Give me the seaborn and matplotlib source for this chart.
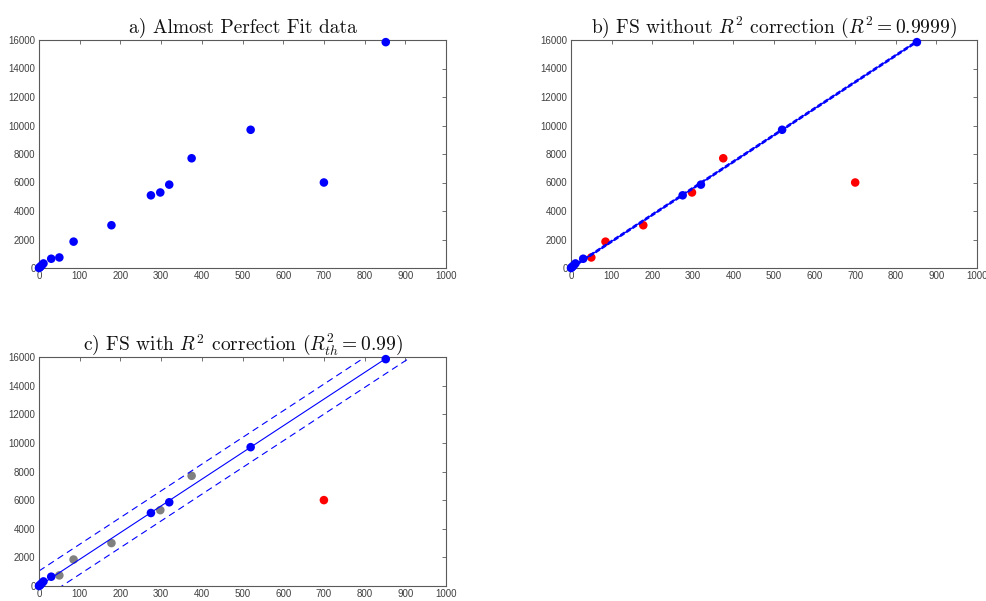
import numpy as np
import pandas as pd
import matplotlib
matplotlib.use("Agg")
import matplotlib.pyplot as plt
import seaborn as sns

# ---------------- data ----------------
x_vals = [0, 2, 4, 7, 11, 30, 50, 85, 178, 275, 298, 320, 375, 520, 700, 852]
y_vals = [0, 50, 110, 190, 320, 650, 740, 1850, 3000, 5100, 5300, 5850, 7700, 9700, 6000, 15850]
# status in panel b (FS without correction): 1 = inlier, 0 = outlier
status_b = [1, 1, 1, 1, 1, 1, 0, 0, 0, 1, 0, 1, 0, 1, 0, 1]
# status in panel c (FS with correction): 1 = inlier, 2 = accepted (grey), 0 = outlier
status_c = [1, 1, 1, 1, 1, 1, 2, 2, 2, 1, 2, 1, 2, 1, 0, 1]

fit_slope = 18.65
fit_intercept = 0.0
band_b = 60.0
band_c = 1050.0

titles = [
    "a) Almost Perfect Fit data",
    r"b) FS without $R^2$ correction ($R^2 = 0.9999$)",
    r"c) FS with $R^2$ correction ($R^2_{th} = 0.99$)",
]
x_ticks = list(range(0, 1001, 100))
y_ticks = list(range(0, 16001, 2000))

df = pd.DataFrame({"x": x_vals, "y": y_vals, "sb": status_b, "sc": status_c})

# ---------------- style ----------------
sns.set_style("white")
plt.rcParams["mathtext.fontset"] = "cm"
plt.rcParams["font.family"] = ["Liberation Sans", "DejaVu Sans"]

W, H = 987, 601
fig = plt.figure(figsize=(W / 100, H / 100), dpi=100)


def make_ax(left, top, right, bottom):
    return fig.add_axes([left / W, 1 - bottom / H, (right - left) / W, (bottom - top) / H])


ax_a = make_ax(39, 40, 446, 268)
ax_b = make_ax(571, 40, 977, 268)
ax_c = make_ax(39, 357, 446, 586)

BLUE = (0, 0, 1)
RED = (1, 0, 0)
GREY = (0.5, 0.5, 0.5)
MS = 38
AXC = "#5a5a5a"


def style_ax(ax, title):
    ax.set_xlim(0, 1000)
    ax.set_ylim(0, 16000)
    ax.set_xticks(x_ticks)
    ax.set_yticks(y_ticks)
    ax.tick_params(direction="in", length=3, width=0.6, colors=AXC,
                   labelsize=7, top=True, right=True, pad=2.5,
                   labelcolor="#404040")
    for s in ax.spines.values():
        s.set_color(AXC)
        s.set_linewidth(0.8)
        s.set_visible(True)
    ax.set_xlabel("")
    ax.set_ylabel("")
    ax.set_title(title, fontsize=14, fontfamily="cmr10", pad=5, color="#111111")
    if ax.get_legend() is not None:
        ax.get_legend().remove()


def scatter(ax, d, color, z):
    sns.scatterplot(data=d, x="x", y="y", ax=ax, color=color, s=MS,
                    edgecolor="none", linewidth=0, zorder=z, legend=False,
                    clip_on=False)


# panel a
scatter(ax_a, df, BLUE, 3)
style_ax(ax_a, titles[0])

# panel b
scatter(ax_b, df[df.sb == 0], RED, 2)
xb = np.array([0.0, df.x[df.sb == 1].max()])
for off, ls, lw in [(0.0, "-", 1.0), (band_b, "--", 1.0), (-band_b, "--", 1.0)]:
    sns.lineplot(x=xb, y=fit_intercept + fit_slope * xb + off, ax=ax_b,
                 color=BLUE, linewidth=lw, linestyle=ls, zorder=2.5, sort=False)
scatter(ax_b, df[df.sb == 1], BLUE, 3)
style_ax(ax_b, titles[1])

# panel c
scatter(ax_c, df[df.sc == 2], GREY, 2)
scatter(ax_c, df[df.sc == 0], RED, 2)
xc = np.array([0.0, 1000.0])
for off, ls in [(0.0, "-"), (band_c, (0, (6, 4))), (-band_c, (0, (6, 4)))]:
    sns.lineplot(x=xc, y=fit_intercept + fit_slope * xc + off, ax=ax_c,
                 color=BLUE, linewidth=0.8, linestyle=ls, zorder=2.5, sort=False)
scatter(ax_c, df[df.sc == 1], BLUE, 3)
style_ax(ax_c, titles[2])

fig.savefig("out.png", dpi=100)
